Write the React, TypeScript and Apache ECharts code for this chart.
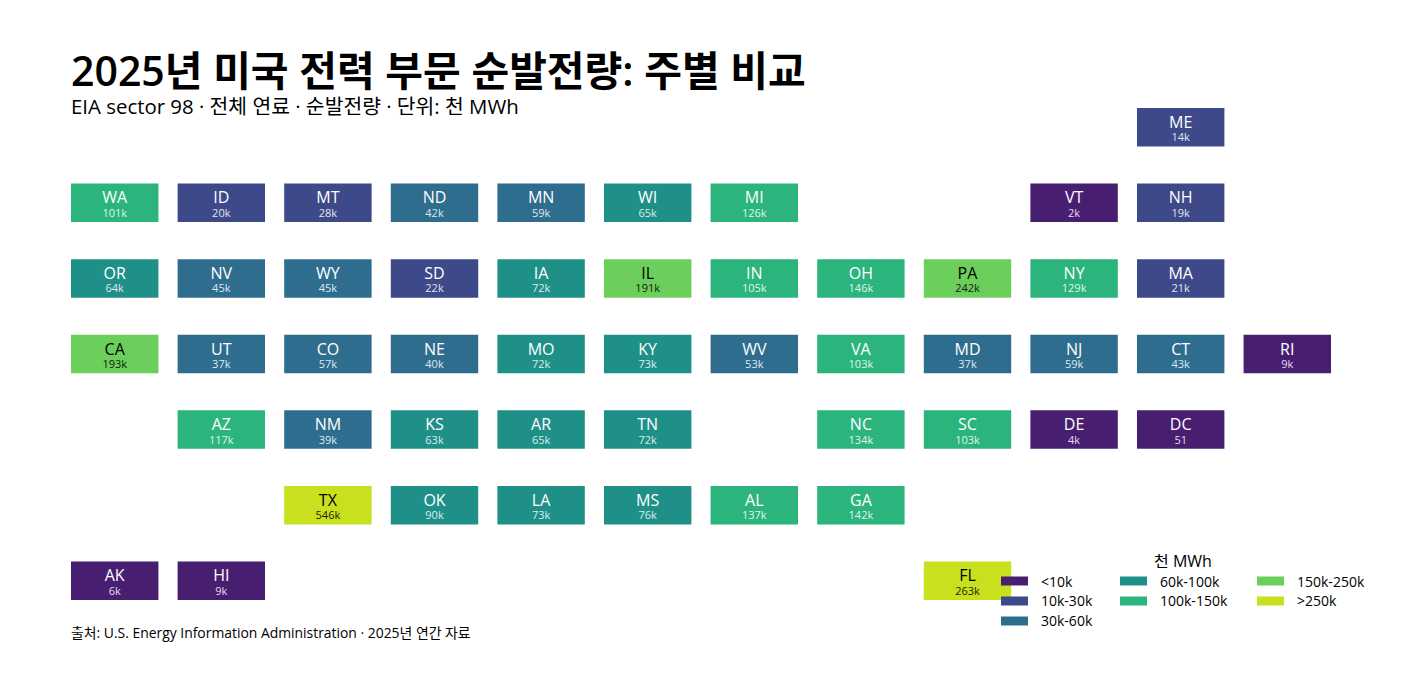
import * as echarts from 'echarts';
import { useEffect, useRef } from 'react';

// 주별 순발전량 (천 MWh)
const STATES = [
  'ME',
  'WA', 'ID', 'MT', 'ND', 'MN', 'WI', 'MI', 'VT', 'NH',
  'OR', 'NV', 'WY', 'SD', 'IA', 'IL', 'IN', 'OH', 'PA', 'NY', 'MA',
  'CA', 'UT', 'CO', 'NE', 'MO', 'KY', 'WV', 'VA', 'MD', 'NJ', 'CT', 'RI',
  'AZ', 'NM', 'KS', 'AR', 'TN', 'NC', 'SC', 'DE', 'DC',
  'TX', 'OK', 'LA', 'MS', 'AL', 'GA',
  'AK', 'HI', 'FL',
];
const COLS = [
  10,
  0, 1, 2, 3, 4, 5, 6, 9, 10,
  0, 1, 2, 3, 4, 5, 6, 7, 8, 9, 10,
  0, 1, 2, 3, 4, 5, 6, 7, 8, 9, 10, 11,
  1, 2, 3, 4, 5, 7, 8, 9, 10,
  2, 3, 4, 5, 6, 7,
  0, 1, 8,
];
const ROWS = [
  0,
  1, 1, 1, 1, 1, 1, 1, 1, 1,
  2, 2, 2, 2, 2, 2, 2, 2, 2, 2, 2,
  3, 3, 3, 3, 3, 3, 3, 3, 3, 3, 3, 3,
  4, 4, 4, 4, 4, 4, 4, 4, 4,
  5, 5, 5, 5, 5, 5,
  6, 6, 6,
];
const VALUES = [
  14000,
  101000, 20000, 28000, 42000, 59000, 65000, 126000, 2000, 19000,
  64000, 45000, 45000, 22000, 72000, 191000, 105000, 146000, 242000, 129000, 21000,
  193000, 37000, 57000, 40000, 72000, 73000, 53000, 103000, 37000, 59000, 43000, 9000,
  117000, 39000, 63000, 65000, 72000, 134000, 103000, 4000, 51,
  546000, 90000, 73000, 76000, 137000, 142000,
  6000, 9000, 263000,
];

const BIN_NAMES = ['<10k', '10k-30k', '30k-60k', '60k-100k', '100k-150k', '150k-250k', '>250k'];
const BIN_UPPER = [10000, 30000, 60000, 100000, 150000, 250000, Infinity];
const BIN_COLORS = ['#481e70', '#3e4989', '#2f6d8e', '#1f9088', '#2cb47d', '#6ccf5b', '#c8e01e'];
const BIN_TEXT = ['#fff', '#fff', '#fff', '#fff', '#fff', '#000', '#000'];
const BIN_SUBTEXT = ['#e4dcec', '#e2e4ee', '#dfe9ee', '#ddedec', '#dff4ea', '#16200f', '#1a1f06'];

const FONT = '"Open Sans", "Noto Sans CJK KR", sans-serif';
const CELL_W = 0.82;
const CELL_H = 0.51;

const fmt = (v: number) => (v >= 1000 ? `${Math.round(v / 1000)}k` : String(v));
const binOf = (v: number) => BIN_UPPER.findIndex((u) => v < u);

function buildSeries() {
  return BIN_NAMES.map((name, bin) => {
    const members = STATES.map((_, i) => i).filter((i) => binOf(VALUES[i]) === bin);
    return {
      type: 'custom',
      name,
      itemStyle: { color: BIN_COLORS[bin] },
      data: members.map((i) => [COLS[i], ROWS[i], VALUES[i]]),
      renderItem: (params: any, api: any) => {
        const c = api.value(0);
        const r = api.value(1);
        const [x0, y0] = api.coord([c, r]);
        const [x1, y1] = api.coord([c + CELL_W, r + CELL_H]);
        const cx = (x0 + x1) / 2;
        const cy = (y0 + y1) / 2;
        return {
          type: 'group',
          children: [
            {
              type: 'rect',
              shape: { x: x0, y: y0, width: x1 - x0, height: y1 - y0 },
              style: { fill: BIN_COLORS[bin] },
            },
            {
              type: 'text',
              style: {
                text: STATES[members[params.dataIndex]],
                x: cx,
                y: cy - 5.5,
                align: 'center',
                verticalAlign: 'middle',
                fill: BIN_TEXT[bin],
                font: `500 16px ${FONT}`,
              },
            },
            {
              type: 'text',
              style: {
                text: fmt(api.value(2)),
                x: cx,
                y: cy + 9.5,
                align: 'center',
                verticalAlign: 'middle',
                fill: BIN_SUBTEXT[bin],
                font: `400 11px ${FONT}`,
              },
            },
          ],
        };
      },
    };
  });
}

const legendBase = {
  orient: 'vertical',
  icon: 'rect',
  itemWidth: 27,
  itemHeight: 9,
  itemGap: 6,
  itemStyle: { borderWidth: 0 },
  selectedMode: false,
  padding: 0,
  z: 10,
  top: 574,
  textStyle: { fontFamily: FONT, fontSize: 14, color: '#000', padding: [0, 0, 0, 8] },
};

export default function App() {
  const ref = useRef<HTMLDivElement | null>(null);

  useEffect(() => {
    if (!ref.current) return undefined;
    const chart = echarts.init(ref.current, undefined, { renderer: 'svg' });
    chart.setOption({
      animation: false,
      backgroundColor: '#fff',
      title: [
        {
          text: '2025년 미국 전력 부문 순발전량: 주별 비교',
          left: 71,
          top: 49,
          padding: 0,
          textStyle: { fontFamily: FONT, fontSize: 41, fontWeight: 600, color: '#000' },
        },
        {
          text: 'EIA sector 98 · 전체 연료 · 순발전량 · 단위: 천 MWh',
          left: 71,
          top: 96,
          padding: 0,
          textStyle: { fontFamily: FONT, fontSize: 20.4, fontWeight: 400, color: '#000' },
        },
        {
          text: '출처: U.S. Energy Information Administration · 2025년 연간 자료',
          left: 71,
          top: 626,
          padding: 0,
          textStyle: { fontFamily: FONT, fontSize: 13.9, fontWeight: 400, color: '#000' },
        },
        {
          text: '천 MWh',
          left: 1154,
          top: 553,
          padding: 0,
          textStyle: { fontFamily: FONT, fontSize: 16, fontWeight: 400, color: '#000' },
        },
      ],
      grid: { left: 71, top: 108, width: 1260, height: 492 },
      xAxis: { type: 'value', min: 0, max: 11 + CELL_W, show: false },
      yAxis: { type: 'value', min: 0, max: 6 + CELL_H, inverse: true, show: false },
      legend: [
        { ...legendBase, left: 1001, data: BIN_NAMES.slice(0, 3) },
        { ...legendBase, left: 1120, data: BIN_NAMES.slice(3, 5) },
        { ...legendBase, left: 1257, data: BIN_NAMES.slice(5) },
      ],
      series: buildSeries(),
    });
    const onResize = () => chart.resize();
    window.addEventListener('resize', onResize);
    return () => {
      window.removeEventListener('resize', onResize);
      chart.dispose();
    };
  }, []);

  return <div ref={ref} style={{ position: 'fixed', left: 0, top: 0, width: 1418, height: 690 }} />;
}
